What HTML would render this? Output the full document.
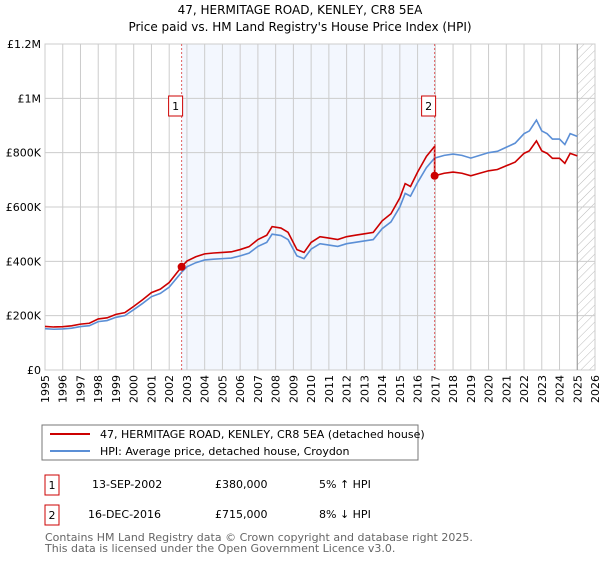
<!DOCTYPE html>
<html><head><meta charset="utf-8"><style>
body{margin:0;background:#fff;font-family:"DejaVu Sans","Liberation Sans",sans-serif;}
svg text{font-family:"DejaVu Sans","Liberation Sans",sans-serif;}
</style></head><body>
<svg id="c" width="600" height="560" viewBox="0 0 600 560">
<defs><pattern id="hatch" width="6" height="6" patternUnits="userSpaceOnUse" patternTransform="rotate(45)"><line x1="0" y1="0" x2="0" y2="6" stroke="#bbb" stroke-width="1"/></pattern></defs>
<text x="300" y="14" text-anchor="middle" font-size="12">47, HERMITAGE ROAD, KENLEY, CR8 5EA</text>
<text x="300" y="31" text-anchor="middle" font-size="12">Price paid vs. HM Land Registry's House Price Index (HPI)</text>
<g id="plot"></g>
<rect x="42" y="425" width="376" height="35" fill="#fff" stroke="#777"/>
<line x1="50" y1="434" x2="90" y2="434" stroke="#cc0000" stroke-width="2"/>
<text x="100" y="438" font-size="11">47, HERMITAGE ROAD, KENLEY, CR8 5EA (detached house)</text>
<line x1="50" y1="451" x2="90" y2="451" stroke="#5b8fd6" stroke-width="2"/>
<text x="100" y="455" font-size="11">HPI: Average price, detached house, Croydon</text>
<g>
<rect x="45" y="475" width="14" height="20" fill="#fff" stroke="#cc0000"/><text x="52" y="489" text-anchor="middle" font-size="11">1</text>
<text x="92" y="488" font-size="11">13-SEP-2002</text><text x="215" y="488" font-size="11">£380,000</text><text x="319" y="488" font-size="11">5% ↑ HPI</text></g>
<g>
<rect x="45" y="505" width="14" height="20" fill="#fff" stroke="#cc0000"/><text x="52" y="519" text-anchor="middle" font-size="11">2</text>
<text x="88" y="518" font-size="11">16-DEC-2016</text><text x="215" y="518" font-size="11">£715,000</text><text x="319" y="518" font-size="11">8% ↓ HPI</text></g>
<text x="45" y="541" font-size="11" fill="#666">Contains HM Land Registry data © Crown copyright and database right 2025.</text>
<text x="45" y="552" font-size="11" fill="#666">This data is licensed under the Open Government Licence v3.0.</text>
</svg>
<script>
const hpiYears=[1995,1995.5,1996,1996.5,1997,1997.5,1998,1998.5,1999,1999.5,2000,2000.5,2001,2001.5,2002,2002.7,2003,2003.5,2004,2004.5,2005,2005.5,2006,2006.5,2007,2007.5,2007.8,2008.3,2008.7,2009.2,2009.6,2010,2010.5,2011,2011.5,2012,2012.5,2013,2013.5,2014,2014.5,2015,2015.3,2015.6,2016,2016.5,2016.96,2017.5,2018,2018.5,2019,2019.5,2020,2020.5,2021,2021.5,2022,2022.3,2022.7,2023,2023.3,2023.6,2024,2024.3,2024.6,2025];
const hpiValues=[152,150,151,154,160,163,178,182,194,200,222,245,270,282,305,360,380,395,405,408,410,412,420,430,455,470,500,495,480,420,410,445,465,460,455,465,470,475,480,520,545,600,650,640,690,745,780,790,795,790,780,790,800,805,820,835,870,880,920,880,870,850,850,830,870,860];
const sales=[{year:2002.7,price:380000},{year:2016.96,price:715000}];
const yTicks=[0,200000,400000,600000,800000,1000000,1200000];
const yLabels=["£0","£200K","£400K","£600K","£800K","£1M","£1.2M"];
const xTicks=[1995,1996,1997,1998,1999,2000,2001,2002,2003,2004,2005,2006,2007,2008,2009,2010,2011,2012,2013,2014,2015,2016,2017,2018,2019,2020,2021,2022,2023,2024,2025,2026];
const X0=45,X1=595,Y0=370,Y1=44;
const xs=y=>X0+(y-1995)/31*(X1-X0);
const ys=v=>Y0-v/1200000*(Y0-Y1);
const g=document.getElementById('plot');const NS='http://www.w3.org/2000/svg';
function mk(t,a,p){const e=document.createElementNS(NS,t);for(const k in a)e.setAttribute(k,a[k]);(p||g).appendChild(e);return e;}
let e;
e=mk('rect',{x:xs(sales[0].year),y:Y1,width:xs(sales[1].year)-xs(sales[0].year),height:Y0-Y1,fill:'#eef3fd',opacity:0.7});

e=mk('rect',{x:xs(2025),y:Y1,width:X1-xs(2025),height:Y0-Y1,fill:'url(#hatch)'});

xTicks.forEach((t,i)=>{
 e=mk('line',{x1:xs(t),x2:xs(t),y1:Y1,y2:Y0,stroke:'#ccc'});
 
 const tx=xs(t)+4, ty=Y0+5;
 e=mk('text',{x:tx,y:ty,'font-size':11,'text-anchor':'end',transform:`rotate(-90 ${tx} ${ty})`});
 e.textContent=t;
 
});
yTicks.forEach((t,i)=>{
 e=mk('line',{x1:X0,x2:X1,y1:ys(t),y2:ys(t),stroke:'#ccc'});
 
 e=mk('text',{x:X0-4,y:ys(t)+4,'font-size':11,'text-anchor':'end'});e.textContent=yLabels[i];
 
});
e=mk('rect',{x:X0,y:Y1,width:X1-X0,height:Y0-Y1,fill:'none',stroke:'#ccc'});

e=mk('line',{x1:xs(2025),x2:xs(2025),y1:Y1,y2:Y0,stroke:'#999'});

function hpiAt(y){for(let i=1;i<hpiYears.length;i++){if(y<=hpiYears[i]){const f=(y-hpiYears[i-1])/(hpiYears[i]-hpiYears[i-1]);return hpiValues[i-1]+f*(hpiValues[i]-hpiValues[i-1]);}}return hpiValues[hpiValues.length-1];}
const hp=hpiYears.map((y,i)=>xs(y)+','+ys(hpiValues[i]*1000)).join(' ');
e=mk('polyline',{points:hp,fill:'none',stroke:'#5b8fd6','stroke-width':1.6});

const r1=sales[0].price/(hpiAt(sales[0].year)*1000), r2=sales[1].price/(hpiAt(sales[1].year)*1000);
let pts=[];let done=false;
hpiYears.forEach((y,i)=>{const r=y<=sales[1].year?r1:r2; if(y>sales[1].year&&!done){pts.push([sales[1].year,hpiAt(sales[1].year)*1000*r1]);pts.push([sales[1].year,sales[1].price]);done=true;} pts.push([y,hpiValues[i]*1000*r]);});
e=mk('polyline',{points:pts.map(p=>xs(p[0])+','+ys(p[1])).join(' '),fill:'none',stroke:'#cc0000','stroke-width':1.6});

sales.forEach((s,i)=>{
 e=mk('line',{x1:xs(s.year),x2:xs(s.year),y1:Y1,y2:Y0,stroke:'#e06060','stroke-dasharray':'2,2'});
 
 e=mk('circle',{cx:xs(s.year),cy:ys(s.price),r:4,fill:'#cc0000'});
 
 e=mk('rect',{x:xs(s.year)-13,y:96,width:14,height:20,fill:'#fff',stroke:'#cc0000'});
 
 e=mk('text',{x:xs(s.year)-6,y:110,'font-size':11,'text-anchor':'middle'});e.textContent=String(i+1);
 
});
</script>
</body></html>
